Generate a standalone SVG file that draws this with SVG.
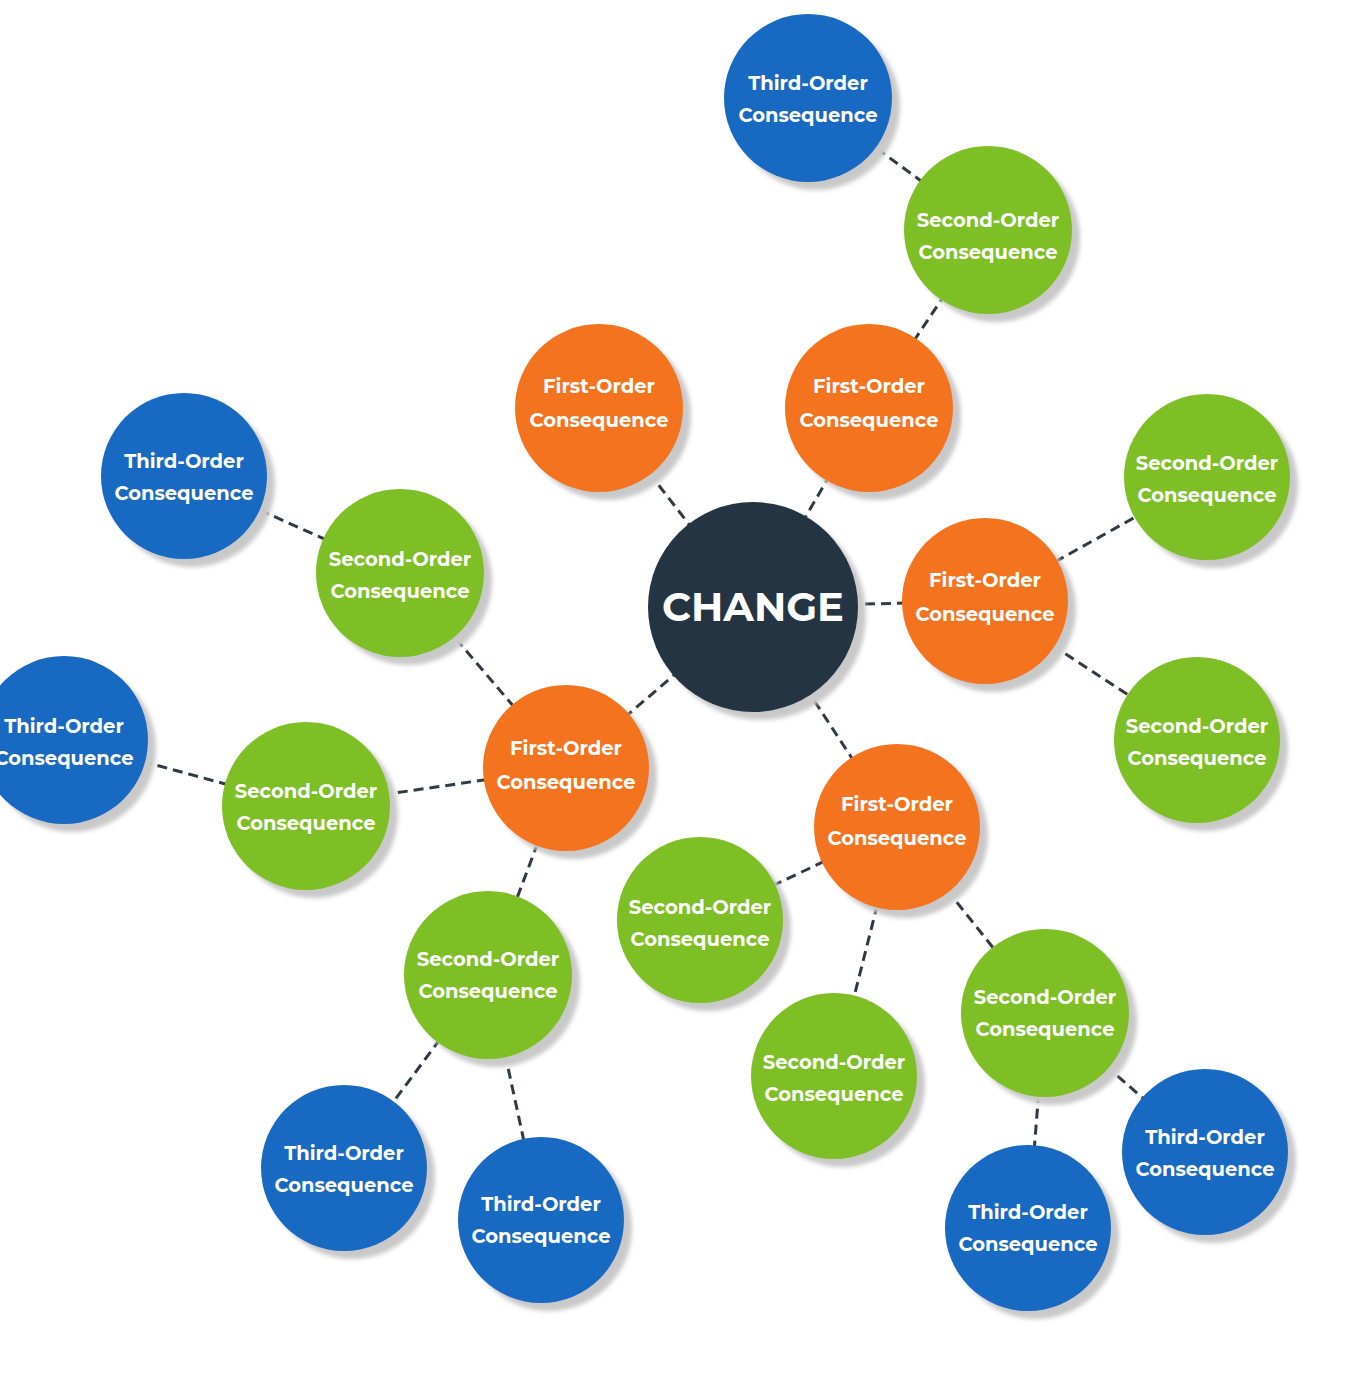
<svg xmlns="http://www.w3.org/2000/svg" width="1362" height="1384" viewBox="0 0 1362 1384">
<defs>
<style>
.edge{stroke:#2f3a44;stroke-width:3;stroke-dasharray:10 6;fill:none}
.sh{fill:#c9c9c9}
.blue{fill:#1869c2}
.green{fill:#7dbf24}
.orange{fill:#f4731f}
.dark{fill:#243443}
text{font-family:"Montserrat","Liberation Sans",Arial,sans-serif;font-weight:bold;fill:#ffffff;text-anchor:middle;font-size:19.5px}
.big{font-size:40px}
</style>
<filter id="blur" x="-20%" y="-20%" width="140%" height="140%"><feGaussianBlur stdDeviation="2"/></filter>
</defs>
<rect width="1362" height="1384" fill="#ffffff"/>
<g id="connectors">
<line class="edge" x1="753" y1="607" x2="599" y2="408"/>
<line class="edge" x1="753" y1="607" x2="869" y2="408"/>
<line class="edge" x1="753" y1="607" x2="985" y2="601"/>
<line class="edge" x1="753" y1="607" x2="566" y2="768"/>
<line class="edge" x1="753" y1="607" x2="897" y2="827"/>
<line class="edge" x1="869" y1="408" x2="988" y2="230"/>
<line class="edge" x1="988" y1="230" x2="808" y2="98"/>
<line class="edge" x1="985" y1="601" x2="1207" y2="477"/>
<line class="edge" x1="985" y1="601" x2="1197" y2="740"/>
<line class="edge" x1="566" y1="768" x2="400" y2="573"/>
<line class="edge" x1="400" y1="573" x2="184" y2="476"/>
<line class="edge" x1="566" y1="768" x2="306" y2="806"/>
<line class="edge" x1="306" y1="806" x2="64" y2="740"/>
<line class="edge" x1="566" y1="768" x2="488" y2="975"/>
<line class="edge" x1="488" y1="975" x2="344" y2="1168"/>
<line class="edge" x1="488" y1="975" x2="541" y2="1220"/>
<line class="edge" x1="897" y1="827" x2="700" y2="920"/>
<line class="edge" x1="897" y1="827" x2="834" y2="1076"/>
<line class="edge" x1="897" y1="827" x2="1045" y2="1013"/>
<line class="edge" x1="1045" y1="1013" x2="1028" y2="1228"/>
<line class="edge" x1="1045" y1="1013" x2="1205" y2="1152"/>
</g>
<g id="shadows" filter="url(#blur)">
<circle class="sh" cx="761" cy="615" r="105"/>
<circle class="sh" cx="816" cy="106" r="84"/>
<circle class="sh" cx="996" cy="238" r="84"/>
<circle class="sh" cx="877" cy="416" r="84"/>
<circle class="sh" cx="607" cy="416" r="84"/>
<circle class="sh" cx="1215" cy="485" r="83"/>
<circle class="sh" cx="993" cy="609" r="83"/>
<circle class="sh" cx="1205" cy="748" r="83"/>
<circle class="sh" cx="192" cy="484" r="83"/>
<circle class="sh" cx="408" cy="581" r="84"/>
<circle class="sh" cx="72" cy="748" r="84"/>
<circle class="sh" cx="314" cy="814" r="84"/>
<circle class="sh" cx="574" cy="776" r="83"/>
<circle class="sh" cx="905" cy="835" r="83"/>
<circle class="sh" cx="496" cy="983" r="84"/>
<circle class="sh" cx="708" cy="928" r="83"/>
<circle class="sh" cx="842" cy="1084" r="83"/>
<circle class="sh" cx="1053" cy="1021" r="84"/>
<circle class="sh" cx="352" cy="1176" r="83"/>
<circle class="sh" cx="549" cy="1228" r="83"/>
<circle class="sh" cx="1036" cy="1236" r="83"/>
<circle class="sh" cx="1213" cy="1160" r="83"/>
</g>
<g id="change"><circle class="dark" cx="753" cy="607" r="105"/><text class="big" x="753" y="621">CHANGE</text></g>
<g id="t-top"><circle class="blue" cx="808" cy="98" r="84"/><text x="808" y="90">Third-Order</text><text x="808" y="122">Consequence</text></g>
<g id="s-top"><circle class="green" cx="988" cy="230" r="84"/><text x="988" y="227">Second-Order</text><text x="988" y="259">Consequence</text></g>
<g id="f-topright"><circle class="orange" cx="869" cy="408" r="84"/><text x="869" y="393">First-Order</text><text x="869" y="427">Consequence</text></g>
<g id="f-topleft"><circle class="orange" cx="599" cy="408" r="84"/><text x="599" y="393">First-Order</text><text x="599" y="427">Consequence</text></g>
<g id="s-right-top"><circle class="green" cx="1207" cy="477" r="83"/><text x="1207" y="470">Second-Order</text><text x="1207" y="502">Consequence</text></g>
<g id="f-right"><circle class="orange" cx="985" cy="601" r="83"/><text x="985" y="587">First-Order</text><text x="985" y="621">Consequence</text></g>
<g id="s-right-bottom"><circle class="green" cx="1197" cy="740" r="83"/><text x="1197" y="733">Second-Order</text><text x="1197" y="765">Consequence</text></g>
<g id="t-left-top"><circle class="blue" cx="184" cy="476" r="83"/><text x="184" y="468">Third-Order</text><text x="184" y="500">Consequence</text></g>
<g id="s-left-top"><circle class="green" cx="400" cy="573" r="84"/><text x="400" y="566">Second-Order</text><text x="400" y="598">Consequence</text></g>
<g id="t-left"><circle class="blue" cx="64" cy="740" r="84"/><text x="64" y="733">Third-Order</text><text x="64" y="765">Consequence</text></g>
<g id="s-left"><circle class="green" cx="306" cy="806" r="84"/><text x="306" y="798">Second-Order</text><text x="306" y="830">Consequence</text></g>
<g id="f-left"><circle class="orange" cx="566" cy="768" r="83"/><text x="566" y="755">First-Order</text><text x="566" y="789">Consequence</text></g>
<g id="f-bottom"><circle class="orange" cx="897" cy="827" r="83"/><text x="897" y="811">First-Order</text><text x="897" y="845">Consequence</text></g>
<g id="s-bottom-left"><circle class="green" cx="488" cy="975" r="84"/><text x="488" y="966">Second-Order</text><text x="488" y="998">Consequence</text></g>
<g id="s-middle"><circle class="green" cx="700" cy="920" r="83"/><text x="700" y="914">Second-Order</text><text x="700" y="946">Consequence</text></g>
<g id="s-bottom-center"><circle class="green" cx="834" cy="1076" r="83"/><text x="834" y="1069">Second-Order</text><text x="834" y="1101">Consequence</text></g>
<g id="s-bottom-right"><circle class="green" cx="1045" cy="1013" r="84"/><text x="1045" y="1004">Second-Order</text><text x="1045" y="1036">Consequence</text></g>
<g id="t-bottom1"><circle class="blue" cx="344" cy="1168" r="83"/><text x="344" y="1160">Third-Order</text><text x="344" y="1192">Consequence</text></g>
<g id="t-bottom2"><circle class="blue" cx="541" cy="1220" r="83"/><text x="541" y="1211">Third-Order</text><text x="541" y="1243">Consequence</text></g>
<g id="t-bottom3"><circle class="blue" cx="1028" cy="1228" r="83"/><text x="1028" y="1219">Third-Order</text><text x="1028" y="1251">Consequence</text></g>
<g id="t-bottom-right"><circle class="blue" cx="1205" cy="1152" r="83"/><text x="1205" y="1144">Third-Order</text><text x="1205" y="1176">Consequence</text></g>
</svg>
